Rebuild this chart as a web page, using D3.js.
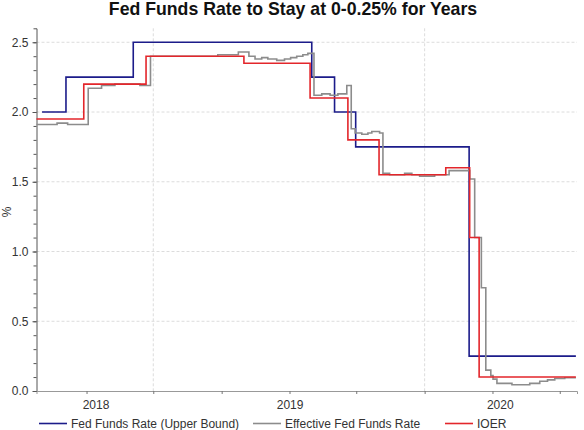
<!DOCTYPE html>
<html><head><meta charset="utf-8">
<script src="https://cdn.jsdelivr.net/npm/d3@7"></script>
<style>
html,body{margin:0;padding:0;background:#fff;}
svg{display:block;font-family:"Liberation Sans",Arial,sans-serif;}
</style></head>
<body>
<svg id="chart" width="584" height="430"></svg>
<script>
const title = "Fed Funds Rate to Stay at 0-0.25% for Years";
const yLabel = "%";
const seriesNames = ["Fed Funds Rate (Upper Bound)", "Effective Fed Funds Rate", "IOER"];
const seriesColors = ["#1c1c8a", "#8c8c8c", "#e3262b"];

const upperDates = ["2017-10-13","2017-11-25","2018-03-26","2019-02-10","2019-03-23","2019-04-30","2019-11-20","2020-05-30"];
const upperValues = [2.00, 2.25, 2.50, 2.25, 2.00, 1.75, 0.25, 0.25];

const ioerDates = ["2017-10-03","2017-12-27","2018-04-18","2018-10-11","2019-02-07","2019-04-16","2019-06-11","2019-10-09","2019-11-21","2019-12-08","2020-05-30"];
const ioerValues = [1.95, 2.20, 2.40, 2.35, 2.10, 1.80, 1.55, 1.60, 1.10, 0.10, 0.10];

const effrDates = ["2017-10-03","2017-11-09","2017-11-28","2018-01-04","2018-01-28","2018-02-21","2018-04-07","2018-04-26",
  "2018-08-25","2018-10-01","2018-10-20","2018-10-31","2018-11-12","2018-11-23","2018-12-09","2018-12-23",
  "2019-01-03","2019-01-14","2019-01-25","2019-02-03","2019-02-14","2019-02-28","2019-03-15","2019-03-29",
  "2019-04-14","2019-04-22","2019-04-29","2019-05-11","2019-05-22","2019-05-29","2019-06-12","2019-06-18",
  "2019-06-30","2019-07-27","2019-08-09","2019-08-23","2019-09-19","2019-10-15","2019-11-21","2019-11-30",
  "2019-12-12","2019-12-20","2019-12-29","2020-01-02","2020-01-09","2020-02-05","2020-03-08","2020-03-26",
  "2020-04-09","2020-04-22","2020-05-10","2020-05-30"];
const effrValues = [1.91, 1.92, 1.91, 2.17, 2.19, 2.20, 2.19, 2.40,
  2.41, 2.43, 2.40, 2.38, 2.39, 2.38, 2.37, 2.38,
  2.39, 2.40, 2.41, 2.42, 2.12, 2.13, 2.12, 2.13,
  2.19, 1.88, 1.85, 1.84, 1.85, 1.86, 1.85, 1.56,
  1.55, 1.56, 1.55, 1.54, 1.55, 1.58, 1.52, 1.10,
  0.74, 0.15, 0.11, 0.085, 0.055, 0.045, 0.055, 0.07,
  0.08, 0.09, 0.095, 0.095];

const xDomain = ["2017-10-03", "2020-06-01"];
const yDomain = [0, 2.6];
const yMajorTicks = [0, 0.5, 1.0, 1.5, 2.0, 2.5];
const yearLabels = ["2018", "2019", "2020"];
const yearLabelDates = ["2018-01-18", "2019-01-02", "2020-01-15"];
const vGridDates = ["2018-05-01", "2019-09-01"];

const parse = d3.utcParse("%Y-%m-%d");
const svg = d3.select("#chart");
const pLeft = 36.5, pRight = 577, pTop = 28.3, pBottom = 391;
const FONT = "Liberation Sans, Arial, sans-serif";

const x = d3.scaleUtc().domain(xDomain.map(parse)).range([pLeft, pRight]);
const y = d3.scaleLinear().domain(yDomain).range([pBottom, pTop]);

// gridlines
svg.append("g").selectAll("line").data(yMajorTicks.filter(v => v > 0)).join("line")
  .attr("x1", pLeft).attr("x2", pRight).attr("y1", d => y(d)).attr("y2", d => y(d))
  .attr("stroke", "#dcdcdc").attr("stroke-width", 1).attr("stroke-dasharray", "3,2");
svg.append("g").selectAll("line").data(vGridDates.map(parse)).join("line")
  .attr("x1", d => x(d)).attr("x2", d => x(d)).attr("y1", pTop).attr("y2", pBottom)
  .attr("stroke", "#dcdcdc").attr("stroke-width", 1).attr("stroke-dasharray", "3,2");

// title
svg.append("text").attr("x", 293).attr("y", 15).attr("text-anchor", "middle")
  .attr("font-size", 17.7).attr("font-weight", "bold").attr("fill", "#111").text(title);

// y axis
const yAxisMinor = d3.axisLeft(y).tickValues(d3.range(0, 26).map(i => i / 10)).tickSize(3).tickFormat("");
svg.append("g").attr("transform", `translate(${pLeft},0)`).call(yAxisMinor)
  .call(g => g.select(".domain").attr("stroke", "#555"))
  .call(g => g.selectAll(".tick line").attr("stroke", "#555"));
const yAxis = d3.axisLeft(y).tickValues(yMajorTicks).tickSize(4).tickPadding(4).tickFormat(d3.format(".1f"));
svg.append("g").attr("transform", `translate(${pLeft},0)`).call(yAxis)
  .call(g => g.select(".domain").remove())
  .call(g => g.selectAll(".tick line").attr("stroke", "#555"))
  .call(g => g.selectAll("text").attr("font-size", 12).attr("fill", "#333").attr("font-family", FONT));

svg.append("text").attr("transform", `translate(11,212) rotate(-90)`).attr("text-anchor", "middle")
  .attr("font-size", 12).attr("fill", "#333").text(yLabel);

// x axis
const xAxis = d3.axisBottom(x).ticks(d3.utcMonth.every(4)).tickSize(3).tickFormat("");
svg.append("g").attr("transform", `translate(0,${pBottom})`).call(xAxis)
  .call(g => g.select(".domain").attr("stroke", "#999"))
  .call(g => g.selectAll(".tick line").attr("stroke", "#777"));
svg.append("g").selectAll("text").data(yearLabels).join("text")
  .attr("x", (d, i) => x(parse(yearLabelDates[i]))).attr("y", 408.5)
  .attr("text-anchor", "middle").attr("font-size", 12).attr("fill", "#333").text(d => d);

// lines
const line = d3.line().curve(d3.curveStepAfter).x(d => x(d[0])).y(d => y(d[1]));
const mk = (ds, vs) => ds.map((d, i) => [parse(d), vs[i]]);
const series = [mk(upperDates, upperValues), mk(effrDates, effrValues), mk(ioerDates, ioerValues)];
series.forEach((s, i) => {
  svg.append("path").datum(s).attr("d", line).attr("fill", "none")
    .attr("stroke", seriesColors[i]).attr("stroke-width", 1.6);
});

// legend
const legendX = [39, 253, 445];
const lg = svg.append("g").selectAll("g").data(seriesNames).join("g")
  .attr("transform", (d, i) => `translate(${legendX[i]},423.5)`);
lg.append("line").attr("x1", 0).attr("x2", 28).attr("y1", 0).attr("y2", 0)
  .attr("stroke", (d, i) => seriesColors[i]).attr("stroke-width", 1.6);
lg.append("text").attr("x", 32).attr("y", 4.3).attr("font-size", 12).attr("fill", "#333").text(d => d);
</script>
</body></html>
